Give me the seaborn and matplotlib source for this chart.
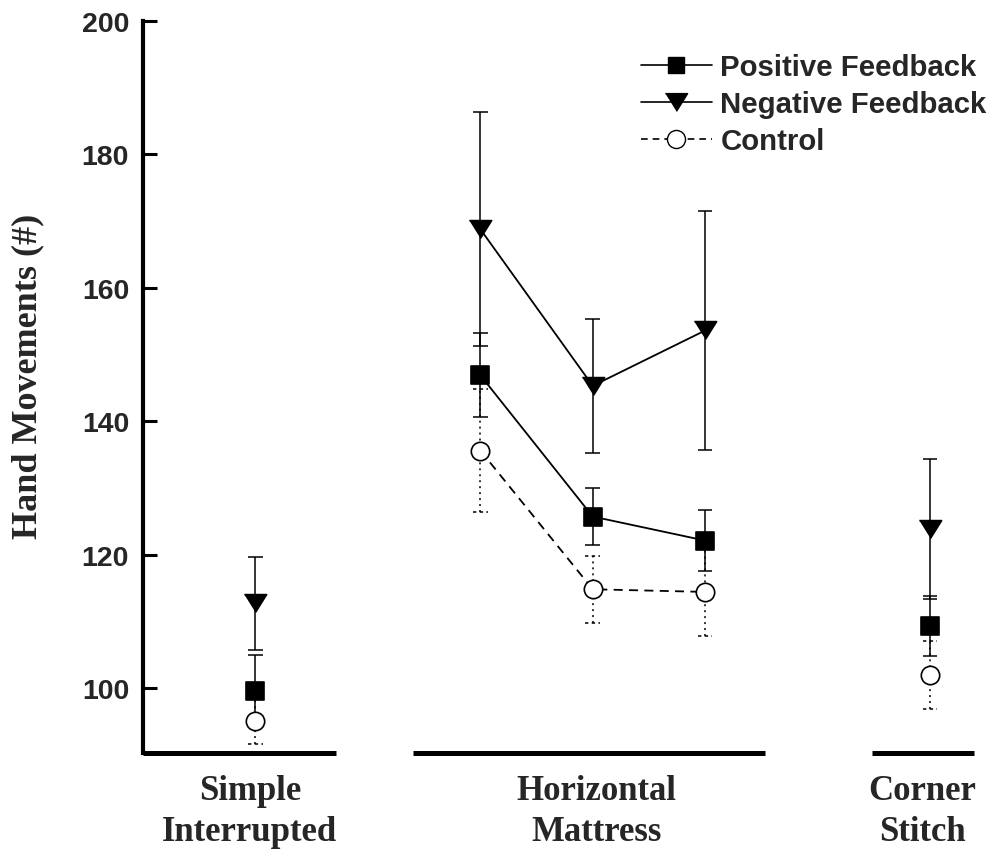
import matplotlib
matplotlib.use("Agg")
import matplotlib.pyplot as plt
from matplotlib.lines import Line2D
import seaborn as sns
import numpy as np

# Suture groups and the x position of each measured condition
groups = ["Simple\nInterrupted", "Horizontal\nMattress", "Corner\nStitch"]
group_label_x = [-0.05, 3.03, 5.93]
group_spans = [(-1.0, 0.72), (1.40, 4.53), (5.48, 6.39)]
positions = [0, 2, 3, 4, 6]
group_of_point = [0, 1, 1, 1, 2]

# Mean hand movements and standard deviations per feedback condition
pos_mean = [99.6, 146.9, 125.7, 122.1, 109.3]
pos_sd = [5.4, 6.3, 4.3, 4.6, 4.5]
neg_mean = [112.7, 168.8, 145.3, 153.6, 123.8]
neg_sd = [7.0, 17.6, 10.0, 17.9, 10.5]
ctl_mean = [95.0, 135.6, 114.8, 114.4, 101.9]
ctl_sd = [3.4, 9.2, 5.0, 6.6, 5.1]

series_names = ["Positive Feedback", "Negative Feedback", "Control"]
yticks = [100, 120, 140, 160, 180, 200]

sns.set_theme(style="white")
plt.rcParams["font.family"] = ["Liberation Sans", "DejaVu Sans"]

fig = plt.figure(figsize=(9.95, 8.54), dpi=100)
ax = fig.add_axes([143 / 995, 1 - 754 / 854, (975 - 143) / 995, (754 - 22) / 854])
ymin, ymax = 90.25, 200
ax.set_xlim(-1.0, 6.4)
ax.set_ylim(ymin, ymax)

tri_down = [(-1, 0.8), (1, 0.8), (0, -0.8)]
styles = {
    "Positive Feedback": dict(mean=pos_mean, sd=pos_sd, marker="s", s=150, face="black",
                              line="-", err=(0, ()), cap=(0, ())),
    "Negative Feedback": dict(mean=neg_mean, sd=neg_sd, marker=tri_down, s=256, face="black",
                              line="-", err=(0, ()), cap=(0, ())),
    "Control": dict(mean=ctl_mean, sd=ctl_sd, marker="o", s=175, face="white",
                    line=(0, (5, 3.5)), err=(0, (1.3, 2.6)), cap=(0, (2.2, 2.2))),
}

cap_half = 0.065
x = np.array(positions, dtype=float)
for name in series_names:
    st = styles[name]
    m = np.array(st["mean"])
    sd = np.array(st["sd"])
    lo, hi = m - sd, m + sd
    # error bars: vertical whiskers plus caps
    ax.vlines(x, lo, hi, colors="black", linewidth=1.1, linestyles=[st["err"]], zorder=2)
    ax.hlines(np.concatenate([lo, hi]), np.tile(x - cap_half, 2), np.tile(x + cap_half, 2),
              colors="black", linewidth=1.1, linestyles=[st["cap"]], zorder=2)
    # connecting line across the horizontal mattress conditions
    idx = [i for i, g in enumerate(group_of_point) if g == 1]
    sns.lineplot(x=x[idx], y=m[idx], color="black", linewidth=1.3, ax=ax,
                 linestyle=st["line"], errorbar=None, zorder=3)
    sns.scatterplot(x=x, y=m, marker=st["marker"], s=st["s"], color=st["face"],
                    edgecolor="black", linewidth=1.2, ax=ax, zorder=4, legend=False)

# axes styling: left spine plus a broken baseline under each suture group
for side in ["top", "right", "bottom"]:
    ax.spines[side].set_visible(False)
ax.spines["left"].set_linewidth(3.0)
ax.spines["left"].set_color("black")
ax.spines["left"].set_bounds(ymin, ymax)
for a, b in group_spans:
    ax.plot([a, b], [ymin, ymin], color="black", linewidth=3.6, solid_capstyle="butt",
            clip_on=False, zorder=5)

ax.set_yticks(yticks)
ax.set_yticklabels([str(t) for t in yticks], fontsize=20.5, fontweight="bold",
                   family=["Liberation Sans"])
ax.tick_params(axis="y", direction="in", length=10, width=2.2, color="black", pad=10, left=True)

ax.set_xticks(group_label_x)
ax.set_xticklabels(groups, fontsize=25, fontweight="bold", family=["Liberation Serif"],
                   linespacing=1.32)
ax.tick_params(axis="x", length=0, pad=15)

ax.set_ylabel("Hand Movements (#)", fontsize=26, fontweight="bold",
              family=["Liberation Serif"], va="center")
ax.yaxis.set_label_coords((28 - 143) / 832, (754 - 376) / 732)

handles = [
    Line2D([0], [0], color="black", lw=1.2, linestyle="-", marker="s", markersize=12,
           markerfacecolor="black", markeredgecolor="black"),
    Line2D([0], [0], color="black", lw=1.2, linestyle="-", marker=tri_down, markersize=16,
           markerfacecolor="black", markeredgecolor="black"),
    Line2D([0], [0], color="black", lw=1.2, linestyle=(0, (4, 3)), marker="o", markersize=13,
           markerfacecolor="white", markeredgecolor="black"),
]
leg = ax.legend(handles, series_names, loc="upper right", bbox_to_anchor=(1.014, 0.956),
                frameon=False, borderpad=0, borderaxespad=0, handlelength=2.4,
                handletextpad=0.3, labelspacing=0.3, numpoints=1,
                prop={"family": "Liberation Sans", "weight": "bold", "size": 21.2})

fig.savefig("out.png", dpi=100)
